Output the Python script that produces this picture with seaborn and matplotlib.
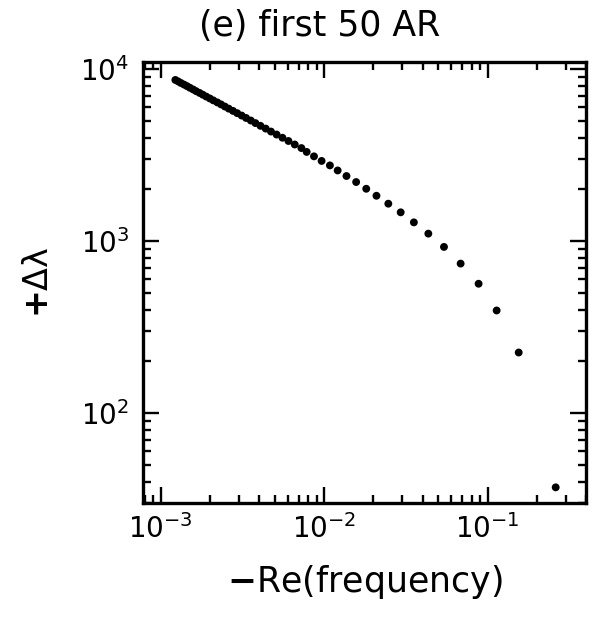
import matplotlib
matplotlib.use('Agg')
import matplotlib.pyplot as plt
import matplotlib.ticker as ticker
import pandas as pd
import seaborn as sns

# Values, leftmost point first
neg_re_freq = [0.00123, 0.00128, 0.00133, 0.00139, 0.00145, 0.00151, 0.00158, 0.00165,
               0.00173, 0.00181, 0.00190, 0.00200, 0.00210, 0.00222, 0.00234, 0.00247,
               0.00261, 0.00277, 0.00294, 0.00313, 0.00333, 0.00356, 0.00380, 0.00408,
               0.00439, 0.00473, 0.00512, 0.00556, 0.00605, 0.00661, 0.00726,
               0.00782, 0.00867, 0.00965, 0.01085, 0.0121, 0.0137, 0.0157, 0.0181,
               0.0209, 0.0247, 0.0294, 0.0354, 0.0434, 0.0541, 0.0684, 0.0881,
               0.1136, 0.155, 0.261]
delta_lambda = [8650, 8480, 8305, 8130, 7960, 7790, 7615, 7440, 7270, 7100, 6925, 6750,
                6580, 6405, 6235, 6060, 5890, 5715, 5545, 5370, 5200, 5025, 4855, 4680,
                4510, 4335, 4165, 3990, 3820, 3645, 3475,
                3300, 3110, 2925, 2755, 2575, 2390, 2205, 2015, 1835, 1650, 1470, 1285,
                1105, 925, 740, 565, 395, 225, 37]

x_ticks = [1e-3, 1e-2, 1e-1]
y_ticks = [1e2, 1e3, 1e4]

df = pd.DataFrame({'freq': neg_re_freq, 'dlam': delta_lambda})

sns.set_style('ticks')
plt.rcParams['font.family'] = ['DejaVu Sans']
plt.rcParams['mathtext.default'] = 'regular'
plt.rcParams['text.color'] = 'black'

fig = plt.figure(figsize=(6.04, 6.2), dpi=100)
ax = fig.add_axes([0.2368, 0.1887, 0.7334, 0.7113])

sns.scatterplot(data=df, x='freq', y='dlam', ax=ax, color='black', s=32,
                edgecolor='none', legend=False)

ax.set_xscale('log')
ax.set_yscale('log')
ax.set_xlim(7.8e-4, 0.40)
ax.set_ylim(30, 1.1e4)
ax.set_xticks(x_ticks)
ax.set_yticks(y_ticks)
ax.xaxis.set_minor_formatter(ticker.NullFormatter())
ax.yaxis.set_minor_formatter(ticker.NullFormatter())

ax.tick_params(which='both', direction='in', top=True, right=True,
               color='black', labelcolor='black')
ax.tick_params(which='major', length=11.5, width=1.7, labelsize=20)
ax.tick_params(which='minor', length=5.5, width=1.7)
ax.tick_params(axis='x', which='major', pad=8)
ax.tick_params(axis='y', which='major', pad=10)
for sp in ax.spines.values():
    sp.set_linewidth(2.4)
    sp.set_color('black')

ax.set_xlabel('')
ax.set_ylabel('')
fig.text(365 / 604, 1 - 582 / 620, r'$\mathbf{-}$Re(frequency)', fontsize=25,
         ha='center', va='center', color='black')
fig.text(38 / 604, 1 - 282 / 620, r'$\mathbf{+}$' + '\u0394\u03bb', fontsize=24,
         rotation=90, ha='center', va='center', color='black')
fig.text(320 / 604, 1 - 26 / 620, '(e) first 50 AR', fontsize=25, ha='center',
         va='center', color='black')

fig.savefig('out.png', dpi=100, facecolor='white')
